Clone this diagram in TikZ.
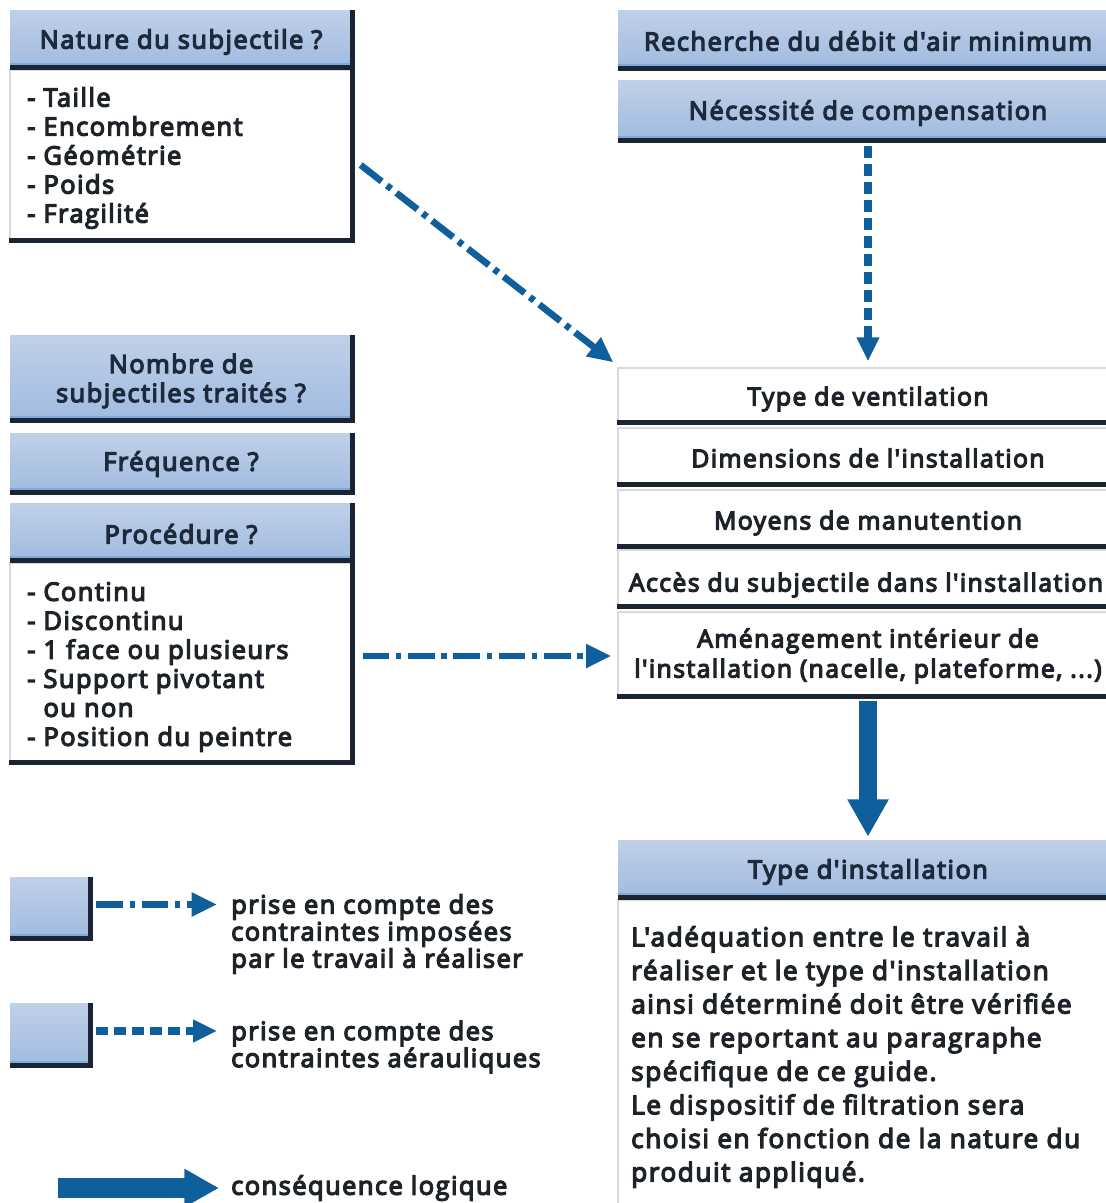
\documentclass[tikz,border=0pt]{standalone}
\usepackage{fontspec}
\setmainfont{Open Sans}[Ligatures=TeXOff,FakeBold=5,LetterSpace=6]
\usetikzlibrary{fit,arrows.meta,calc}
\definecolor{hdrtop}{HTML}{C0D0E8}
\definecolor{hdrbot}{HTML}{A0BBE0}
\definecolor{hdrline}{HTML}{7FA8DC}
\definecolor{shd}{HTML}{1B2433}
\definecolor{arr}{HTML}{0F5F9C}
\definecolor{txt}{HTML}{1E2229}
\definecolor{htxt}{HTML}{1D2A3C}
\newcommand\fh{\fontsize{19}{21.75}\selectfont}
\newcommand\fs{\fontsize{18.5}{22.5}\selectfont}
\newcommand\fb{\fontsize{19}{21.75}\selectfont}
\newcommand\fl{\fontsize{19}{20.25}\selectfont}
\newcommand\ft{\fontsize{19.5}{25.2}\selectfont\addfontfeature{LetterSpace=6.3}}
\tikzset{
  hdr/.style={inner sep=0, top color=hdrtop, bottom color=hdrbot, draw=none},
  wbox/.style={inner sep=0, fill=white, draw=gray!30, line width=1pt},
  htext/.style={inner sep=0, font=\fh, text=htxt, align=center},
  stext/.style={inner sep=0, font=\fs, text=txt, align=center},
  shdline/.style={draw=shd, line width=3.8pt, line join=miter},
  btxt/.style={inner sep=0, anchor=west, align=left, font=\fb, text=txt},
  dd/.style={draw=arr, line width=5pt, dash pattern=on 20pt off 5pt on 4pt off 5pt, -{Triangle[length=19pt,width=17pt]}},
  dsh/.style={draw=arr, line width=5.5pt, dash pattern=on 9pt off 4.5pt, -{Triangle[length=18pt,width=16pt]}},
  bigarr/.style={draw=arr, line width=13.5pt, -{Triangle[length=28pt,width=29pt]}},
  bigarrl/.style={draw=arr, line width=15pt, -{Triangle[length=26pt,width=27pt]}}
}
\begin{document}
\begin{tikzpicture}[x=0.75pt,y=-0.75pt]
\useasboundingbox (0,0) rectangle (1106,1203);
% boxes: left column
\node[hdr, fit={(10,10)(352,67)}] (nat) {};
\node[wbox, fit={(10,70)(352,240)}] (natb) {};
\node[hdr, fit={(10,335)(352,420)}] (nomb) {};
\node[hdr, fit={(10,433)(352,492)}] (freq) {};
\node[hdr, fit={(10,503)(352,560)}] (proc) {};
\node[wbox, fit={(10,563)(352,762)}] (procb) {};
% boxes: right column
\node[hdr, fit={(618,10)(1118,68)}] (rech) {};
\node[hdr, fit={(618,80)(1118,140)}] (ncomp) {};
\node[wbox, fit={(618,368)(1118,422)}] (tv) {};
\node[wbox, fit={(618,428)(1118,484)}] (dim) {};
\node[wbox, fit={(618,490)(1118,546)}] (moy) {};
\node[wbox, fit={(618,550)(1118,606)}] (acc) {};
\node[wbox, fit={(618,612)(1118,696)}] (amen) {};
\node[hdr, fit={(618,840)(1118,897)}] (ti) {};
\node[wbox, fit={(618,900)(1118,1215)}] (tib) {};
% legend boxes
\node[hdr, fit={(10,877)(90,938)}] (lb1) {};
\node[hdr, fit={(10,1003)(90,1065)}] (lb2) {};
% header bottom highlight lines and shadows
\foreach \n in {nat,nomb,freq,proc,rech,ncomp,ti,lb1,lb2}
  \draw[draw=hdrline, line width=1.6pt] ([yshift=2.6pt]\n.south west) -- ([yshift=2.6pt]\n.south east);
\foreach \n in {nat,natb,nomb,freq,proc,procb,rech,ncomp,tv,dim,moy,acc,amen,ti,tib,lb1,lb2}
  \draw[shdline] (\n.north east) -- (\n.south east) -- (\n.south west);
% texts
\node[htext] (natl) at (181,42) {Nature du subjectile ?};
\node[btxt] (natt) at (27,158) {- Taille\\- Encombrement\\- Géométrie\\- Poids\\- Fragilité};
\node[htext] (nombl) at (181,381) {Nombre de\\subjectiles traités ?};
\node[htext] (freql) at (181,464) {Fréquence ?};
\node[htext] (procl) at (181,534) {Procédure ?};
\node[btxt] (proct) at (27,667) {- Continu\\- Discontinu\\- 1 face ou plusieurs\\- Support pivotant\\\hphantom{- }ou non\\- Position du peintre};
\node[htext] (rechl) at (868,41) {Recherche du débit d'air minimum};
\node[htext] (ncompl) at (868,113) {Nécessité de compensation};
\node[stext] (tvl) at (868,399) {Type de ventilation};
\node[stext] (diml) at (868,458) {Dimensions de l'installation};
\node[stext] (moyl) at (868,523) {Moyens de manutention};
\node[stext] (accl) at (866,585) {Accès du subjectile dans l'installation};
\node[stext] (amenl) at (868,656) {Aménagement intérieur de\\l'installation (nacelle, plateforme, ...)};
\node[htext] (til) at (868,872) {Type d'installation};
\node[btxt, font=\ft] (tit) at (631,1057) {L'adéquation entre le travail à\\réaliser et le type d'installation\\ainsi déterminé doit être vérifiée\\en se reportant au paragraphe\\spécifique de ce guide.\\Le dispositif de filtration sera\\choisi en fonction de la nature du\\produit appliqué.};
\node[btxt, font=\fl] (lt1) at (231,934) {prise en compte des\\contraintes imposées\\par le travail à réaliser};
\node[btxt, font=\fl] (lt2) at (231,1047) {prise en compte des\\contraintes aérauliques};
\node[btxt, font=\fl] (lt3) at (231,1188) {conséquence logique};
\coordinate (lbs) at (58,1188);
% connectors
\draw[dd] ([shift={(8,10)}]natb.east) -- ([shift={(-4,-5)}]tv.north west);
\draw[dd] ([shift={(10,0)}]procb.east |- amenl.west) -- ([shift={(-6,0)}]amen.west |- amenl.west);
\draw[dsh] ([shift={(0,6)}]ncomp.south) -- ([shift={(0,-6)}]tv.north);
\draw[bigarr] ([shift={(0,4)}]amen.south) -- ([shift={(0,-3)}]ti.north);
\draw[dd] ([shift={(6,-3)}]lb1.east) -- ([shift={(-14,-3)}]lt1.west |- lb1.east);
\draw[dsh] ([shift={(6,-3)}]lb2.east) -- ([shift={(-14,-3)}]lt2.west |- lb2.east);
\draw[bigarrl] (lbs) -- ([shift={(-12,0)}]lt3.west |- lbs);
\end{tikzpicture}
\end{document}
